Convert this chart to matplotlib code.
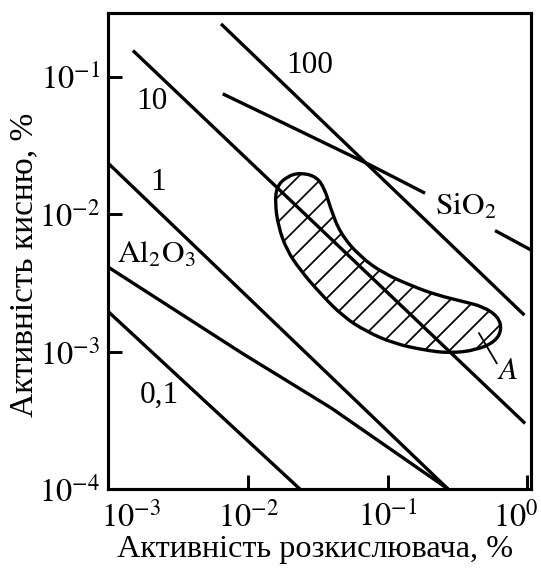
import matplotlib
matplotlib.use('Agg')
import matplotlib.pyplot as plt
import matplotlib.transforms as mtransforms
from matplotlib.path import Path
from matplotlib.patches import PathPatch
import numpy as np

plt.rcParams['font.family'] = ['Liberation Serif', 'DejaVu Serif']
plt.rcParams['mathtext.fontset'] = 'stix'
plt.rcParams['hatch.linewidth'] = 1.7

# curves (deoxidizer activity, oxygen activity)
line_100_x = [0.00641, 0.951]
line_100_y = [0.242, 0.00184]
line_10_x = [0.00150, 0.962]
line_10_y = [0.155, 3.0e-4]
line_1_x = [0.001, 0.270]
line_1_y = [0.0234, 1.0e-4]
line_01_x = [0.001, 0.0235]
line_01_y = [0.00195, 1.0e-4]
al2o3_x = [0.001, 0.0090, 0.0393, 0.270]
al2o3_y = [0.00411, 9.77e-4, 3.89e-4, 1.0e-4]
sio2_x = [0.00659, 0.01435, 0.0746, 0.185]
sio2_y = [0.0750, 0.0513, 0.0228, 0.0142]
sio2_tail_x = [0.586, 1.06]
sio2_tail_y = [0.00759, 0.00548]

# hatched region A (outline control points)
region_x = [0.01604, 0.01561, 0.01648, 0.01892, 0.02357, 0.03275, 0.0481, 0.07073,
            0.1097, 0.1798, 0.2792, 0.4337, 0.5863, 0.6546, 0.619, 0.4833, 0.3477,
            0.2243, 0.1526, 0.093, 0.0633, 0.0456, 0.0386, 0.0356, 0.031, 0.02357, 0.01892]
region_y = [0.01585, 0.01207, 0.00811, 0.00549, 0.00393, 0.00266, 0.00179, 0.001396,
            0.001149, 0.001027, 0.000972, 0.001027, 0.00118, 0.001437, 0.00179, 0.00212,
            0.00231, 0.00258, 0.00297, 0.00371, 0.00491, 0.00726, 0.01134, 0.0150,
            0.01875, 0.02004, 0.01875]
leader_x = [0.450, 0.603]
leader_y = [0.00136, 8.22e-4]

xticks = [1e-3, 1e-2, 1e-1, 1e0]
xticklabels = [r'$10^{-3}$', r'$10^{-2}$', r'$10^{-1}$', r'$10^{0}$']
yticks = [1e-4, 1e-3, 1e-2, 1e-1]
yticklabels = [r'$10^{-4}$', r'$10^{-3}$', r'$10^{-2}$', r'$10^{-1}$']

dpi = 75
fig = plt.figure(figsize=(541 / dpi, 570 / dpi), dpi=dpi)
ax = fig.add_axes([0.2002, 0.1421, 0.7813, 0.8356])
ax.set_xscale('log')
ax.set_yscale('log')
ax.set_xlim(1e-3, 1.06)
ax.set_ylim(1e-4, 0.292)

lw = 3.2
for xs, ys in [(line_100_x, line_100_y), (line_10_x, line_10_y), (line_1_x, line_1_y),
               (line_01_x, line_01_y), (al2o3_x, al2o3_y), (sio2_x, sio2_y),
               (sio2_tail_x, sio2_tail_y)]:
    ax.plot(xs, ys, color='black', lw=lw, solid_capstyle='butt')
ax.plot(leader_x, leader_y, color='black', lw=1.7)

# smooth closed outline: quadratic curves through log-midpoints
px = np.array(region_x)
py = np.array(region_y)
mx = np.sqrt(px * np.roll(px, -1))
my = np.sqrt(py * np.roll(py, -1))
verts = [(mx[-1], my[-1])]
codes = [Path.MOVETO]
for i in range(len(px)):
    verts += [(px[i], py[i]), (mx[i], my[i])]
    codes += [Path.CURVE3, Path.CURVE3]
path = Path(verts, codes)
ax.add_patch(PathPatch(path, facecolor='none', edgecolor='black', lw=lw, hatch='/'))

fs = 30
ax.text(0.0278, 0.120, '100', fontsize=fs, ha='center', va='center')
ax.text(0.00206, 0.0656, '10', fontsize=fs, ha='center', va='center')
ax.text(0.00227, 0.0169, '1', fontsize=fs, ha='center', va='center')
ax.text(0.00219, 0.00505, r'$\mathrm{Al_2O_3}$', fontsize=fs, ha='center', va='center')
ax.text(0.00231, 4.83e-4, '0,1', fontsize=fs, ha='center', va='center')
ax.text(0.3635, 0.01127, r'$\mathrm{SiO_2}$', fontsize=fs, ha='center', va='center')
ax.text(0.726, 7.22e-4, r'$A$', fontsize=fs, ha='center', va='center')

ax.set_xticks(xticks)
ax.set_xticklabels(xticklabels)
ax.set_yticks(yticks)
ax.set_yticklabels(yticklabels)
ax.minorticks_off()
ax.tick_params(direction='in', length=13.5, width=2.8, labelsize=31)
ax.tick_params(axis='x', pad=12)
ax.tick_params(axis='y', pad=8)
for s in ax.spines.values():
    s.set_linewidth(3.0)

# end labels on the x axis sit inward
labs = ax.get_xticklabels()
labs[0].set_transform(labs[0].get_transform() + mtransforms.ScaledTranslation(22 / 72, 0, fig.dpi_scale_trans))
labs[-1].set_transform(labs[-1].get_transform() + mtransforms.ScaledTranslation(-11 / 72, 0, fig.dpi_scale_trans))

ax.set_xlabel('Активність розкислювача, %', fontsize=31)
ax.set_ylabel('Активність кисню, %', fontsize=32)
ax.xaxis.set_label_coords(0.49, -0.097)
ax.yaxis.set_label_coords(-0.163, 0.47)

plt.savefig('out.png', dpi=dpi)
